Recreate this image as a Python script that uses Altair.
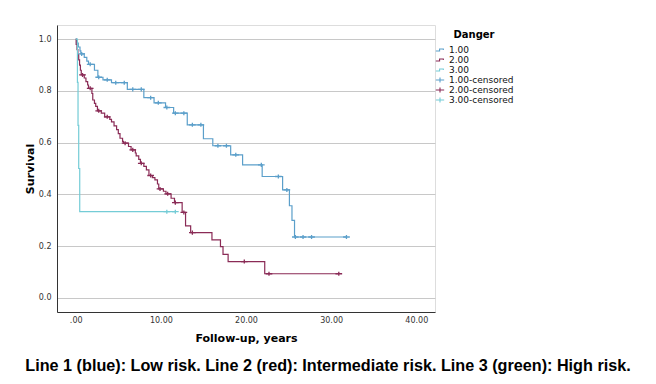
import altair as alt
import pandas as pd

# ---- data ----
groups = ["1.00", "2.00", "3.00"]

# event times and survival right after each step
blue_t = [0.1, 0.3, 0.5, 0.6, 1.0, 1.3, 1.5, 2.2, 2.6, 3.2, 4.2, 6.06, 8.0, 9.2, 10.55, 11.5, 13.1,
          15.0, 16.1, 18.2, 19.6, 21.9, 24.3, 25.1, 25.4, 25.7]
blue_s = [0.985, 0.97, 0.955, 0.943, 0.93, 0.915, 0.903, 0.88, 0.853, 0.843, 0.832, 0.806, 0.774,
          0.754, 0.736, 0.714, 0.669, 0.615, 0.588, 0.553, 0.514, 0.469, 0.417, 0.356, 0.299, 0.235]
blue_cens = [0.7, 1.7, 2.7, 3.7, 4.7, 5.7, 6.7, 7.7, 8.8, 9.7, 10.7, 11.7, 12.7, 13.7, 14.7, 16.7,
             17.7, 18.8, 21.8, 23.8, 24.8, 25.8, 26.7, 27.7, 31.8]
blue_end = 31.8

red_t = [0.05, 0.15, 0.25, 0.35, 0.45, 0.55, 0.65, 1.0, 1.2, 1.4, 1.5, 1.9, 2.0, 2.2, 2.35, 2.55,
         3.0, 3.4, 4.0, 4.2, 4.5, 4.8, 5.0, 5.2, 5.5, 5.6, 6.2, 6.5, 7.0, 7.1, 7.4, 7.6, 8.0, 8.3,
         8.6, 9.0, 9.3, 9.6, 9.75, 10.3, 10.6, 11.2, 11.6, 12.5, 12.9, 13.5, 16.0, 17.0, 17.3,
         17.9, 22.2]
red_s = [0.98, 0.96, 0.94, 0.92, 0.90, 0.88, 0.862, 0.85, 0.836, 0.823, 0.81, 0.79, 0.765, 0.752,
         0.74, 0.723, 0.714, 0.70, 0.69, 0.68, 0.665, 0.65, 0.635, 0.617, 0.605, 0.598, 0.585,
         0.572, 0.56, 0.549, 0.535, 0.52, 0.508, 0.495, 0.473, 0.465, 0.456, 0.44, 0.421, 0.412,
         0.402, 0.385, 0.368, 0.33, 0.278, 0.252, 0.224, 0.198, 0.168, 0.14, 0.093]
red_cens = [0.8, 1.7, 2.7, 3.7, 5.8, 6.7, 7.7, 8.8, 9.9, 10.8, 11.7, 12.7, 13.7, 19.8, 22.7, 30.9]
red_end = 30.9

green_t = [0.2, 0.27, 0.35, 0.47]
green_s = [0.833, 0.667, 0.5, 0.333]
green_cens = [10.7, 11.7]
green_end = 11.7

legend_labels = ["1.00", "2.00", "3.00", "1.00-censored", "2.00-censored", "3.00-censored"]
colors = ["#5b9fca", "#8a2b56", "#74ccd6", "#5b9fca", "#8a2b56", "#74ccd6"]

x_ticks = [0, 10, 20, 30, 40]
y_ticks = [0.0, 0.2, 0.4, 0.6, 0.8, 1.0]

# ---- build tables ----
series = {
    "1.00": (blue_t, blue_s, blue_cens, blue_end),
    "2.00": (red_t, red_s, red_cens, red_end),
    "3.00": (green_t, green_s, green_cens, green_end),
}

line_rows, cens_rows = [], []
for g, (ts, ss, cs, end) in series.items():
    line_rows.append({"t": 0.0, "s": 1.0, "g": g})
    for t, s in zip(ts, ss):
        line_rows.append({"t": t, "s": s, "g": g})
    line_rows.append({"t": end, "s": ss[-1], "g": g})
    for c in cs:
        val = 1.0
        for t, s in zip(ts, ss):
            if t <= c:
                val = s
        cens_rows.append({"t": c, "s": val, "g": g + "-censored"})

lines_df = pd.DataFrame(line_rows)
cens_df = pd.DataFrame(cens_rows)

step_path = "M-1,0.25L-0.1,0.25L-0.1,-0.25L0.8,-0.25L0.8,0"
plus_path = "M-1,0L1,0M0,-0.6L0,0.6"

color_scale = alt.Scale(domain=legend_labels, range=colors)
shape_scale = alt.Scale(domain=legend_labels,
                        range=[step_path, step_path, step_path, plus_path, plus_path, plus_path])

x_enc = alt.X("t:Q", scale=alt.Scale(domain=[-2.2, 42.2], nice=False, zero=False),
              axis=alt.Axis(values=x_ticks, title="Follow-up, years", grid=False, ticks=False,
                            labelExpr="datum.value == 0 ? '.00' : format(datum.value, '.2f')",
                            labelFontSize=8, labelColor="#333333", labelPadding=4,
                            titleFontSize=11, titleFontWeight="bold", titlePadding=8,
                            domainColor="#333333", labelFont="DejaVu Sans",
                            titleFont="DejaVu Sans"))
y_enc = alt.Y("s:Q", scale=alt.Scale(domain=[-0.055, 1.055], nice=False, zero=False),
              axis=alt.Axis(values=y_ticks, format=".1f", title="Survival", grid=True,
                            gridColor="#c8c8c8", ticks=False, labelFontSize=8,
                            labelColor="#333333", labelPadding=6, titleFontSize=11,
                            titleFontWeight="bold", titlePadding=3, domainColor="#333333",
                            labelFont="DejaVu Sans", titleFont="DejaVu Sans"))

legend = alt.Legend(title="Danger", orient="none", legendX=378, legendY=5,
                    titleFontSize=10, titleFont="DejaVu Sans", titleFontWeight="bold",
                    titlePadding=5, labelFontSize=9, labelFont="DejaVu Sans",
                    labelColor="#111111", symbolSize=70, symbolStrokeWidth=1.1,
                    rowPadding=0, labelOffset=4, titleAnchor="middle", labelLimit=200)

lines = alt.Chart(lines_df).mark_line(interpolate="step-after", strokeWidth=1.2).encode(
    x=x_enc, y=y_enc,
    color=alt.Color("g:N", scale=color_scale, legend=legend),
    detail="g:N",
)

cens = alt.Chart(cens_df).mark_point(filled=False, size=45, strokeWidth=1.3, opacity=1).encode(
    x="t:Q", y="s:Q",
    color=alt.Color("g:N", scale=color_scale, legend=legend),
    shape=alt.Shape("g:N", scale=shape_scale, legend=legend),
)

chart = alt.layer(lines, cens).properties(
    width=378, height=287,
    autosize=alt.AutoSizeParams(type="none"),
    padding={"left": 49, "top": 17, "right": 213, "bottom": 64},
    title=alt.TitleParams("Line 1 (blue): Low risk. Line 2 (red): Intermediate risk. Line 3 (green): High risk.",
                          orient="bottom", anchor="middle", dx=82, offset=15,
                          fontSize=16.2, font="Liberation Sans", fontWeight="bold",
                          color="#000000"),
).configure_view(stroke=None).configure(background="white")

chart.save("out.html", embed_options={"renderer": "svg", "actions": False})
